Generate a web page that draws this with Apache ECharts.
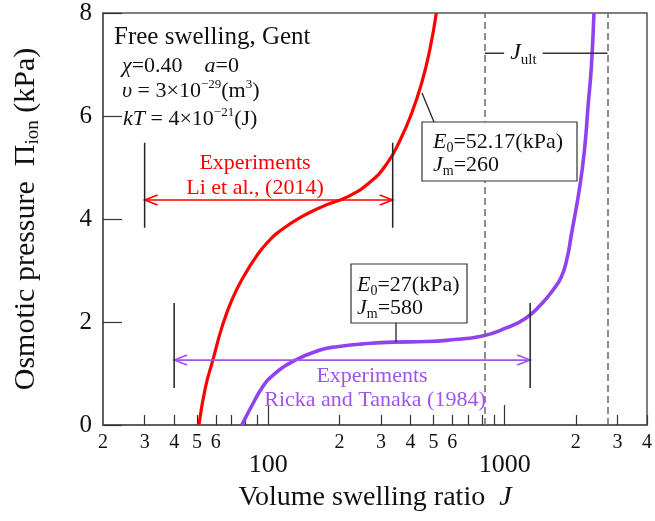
<!DOCTYPE html>
<html>
<head>
<meta charset="utf-8">
<script src="https://cdn.jsdelivr.net/npm/echarts@6/dist/echarts.min.js"></script>
<style>
html, body { margin: 0; padding: 0; background: #fff; }
#chart { width: 655px; height: 521px; }
</style>
</head>
<body>
<div id="chart"></div>
<script>
// Gent model, E0=52.17 kPa, Jm=260 (red)
var redJ = [50.9, 54.3, 58.3, 63.8, 70.2, 78.6, 90.8, 100, 110, 138, 175, 216, 270, 318, 361, 404, 445, 482, 514];
var redP = [0, 0.74, 1.26, 1.91, 2.43, 2.88, 3.33, 3.56, 3.74, 4.04, 4.27, 4.43, 4.72, 5.08, 5.53, 6.05, 6.63, 7.28, 8.0];

// Gent model, E0=27 kPa, Jm=580 (purple)
var purpleJ = [77.3, 87.9, 93.7, 103, 129, 167, 196, 246, 339, 467, 585, 806, 1009, 1224, 1437, 1600, 1731, 1829, 1919, 2079, 2182, 2252, 2327, 2386];
var purpleP = [0, 0.49, 0.71, 0.94, 1.25, 1.46, 1.52, 1.57, 1.61, 1.62, 1.65, 1.73, 1.88, 2.07, 2.36, 2.62, 2.86, 3.20, 3.72, 4.63, 5.40, 6.18, 6.96, 8.0];

// experimental ranges (red: Li et al. 2014, purple: Ricka and Tanaka 1984)
var expLeftJ = [30, 40];
var expRightJ = [336, 1282];
var expArrowP = [4.37, 1.26];
var expBarLow = [3.83, 0.72];
var expBarHigh = [5.48, 2.37];

// J_ult limits
var jultJ = [824, 2723];
var jultP = 7.22;
var jultLabelJ = 1200;

// axis ticks
var minorTicks = [30, 40, 50, 60, 70, 80, 90, 200, 300, 400, 500, 600, 700, 800, 900, 2000, 3000, 4000];
var minorLabels = [20, 30, 40, 50, 60, 200, 300, 400, 500, 600, 2000, 3000, 4000];
var majorTicks = [100, 1000];

var serif = '"Liberation Serif", "Times New Roman", serif';
var RED = '#ff0000';
var PURPLE = '#9142f0';
var PURPLE_TXT = '#a052f2';

function pairs(xs, ys) {
    return xs.map(function (x, i) { return [x, ys[i]]; });
}

function rich(size, color) {
    return {
        n: { fontFamily: serif, fontSize: size, fill: color, color: color, lineHeight: size + 4, verticalAlign: 'middle' },
        i: { fontFamily: serif, fontSize: size, fontStyle: 'italic', fill: color, color: color, lineHeight: size + 4, verticalAlign: 'middle' },
        sub: { fontFamily: serif, fontSize: Math.round(size * 0.62), fill: color, color: color, lineHeight: Math.round(size * 0.62), verticalAlign: 'bottom' },
        sup: { fontFamily: serif, fontSize: Math.round(size * 0.6), fill: color, color: color, lineHeight: Math.round(size * 0.6), verticalAlign: 'top' }
    };
}

function label(x, y, text, size, color, align) {
    return {
        type: 'text', x: x, y: y, z: 100,
        style: {
            text: text, rich: rich(size, color), fontFamily: serif, fontSize: size,
            fill: color, align: align || 'left', verticalAlign: 'middle'
        }
    };
}

function seg(x1, y1, x2, y2) {
    return { type: 'line', z: 100, shape: { x1: x1, y1: y1, x2: x2, y2: y2 }, style: { stroke: '#222', lineWidth: 1.3 } };
}

function box(x, y, w, h) {
    return { type: 'rect', z: 99, shape: { x: x, y: y, width: w, height: h }, style: { fill: '#fff', stroke: '#333', lineWidth: 1.2 } };
}

function rangeRenderer(color) {
    return function (params, api) {
        var l = api.coord([api.value(0), api.value(2)]);
        var r = api.coord([api.value(1), api.value(2)]);
        var lLo = api.coord([api.value(0), api.value(3)]);
        var lHi = api.coord([api.value(0), api.value(4)]);
        var rLo = api.coord([api.value(1), api.value(3)]);
        var rHi = api.coord([api.value(1), api.value(4)]);
        var ah = 13, aw = 5;
        var st = { stroke: color, fill: null, lineWidth: 1.6 };
        var bar = { stroke: '#222', lineWidth: 1.5 };
        return {
            type: 'group',
            children: [
                { type: 'line', shape: { x1: l[0], y1: l[1], x2: r[0], y2: r[1] }, style: st },
                { type: 'polyline', shape: { points: [[l[0] + ah, l[1] - aw], [l[0], l[1]], [l[0] + ah, l[1] + aw]] }, style: st },
                { type: 'polyline', shape: { points: [[r[0] - ah, r[1] - aw], [r[0], r[1]], [r[0] - ah, r[1] + aw]] }, style: st },
                { type: 'line', shape: { x1: lLo[0], y1: lLo[1], x2: lHi[0], y2: lHi[1] }, style: bar },
                { type: 'line', shape: { x1: rLo[0], y1: rLo[1], x2: rHi[0], y2: rHi[1] }, style: bar }
            ]
        };
    };
}

function jultRenderer(params, api) {
    var a = api.coord([api.value(0), api.value(2)]);
    var b = api.coord([api.value(1), api.value(2)]);
    var m = api.coord([api.value(3), api.value(2)]);
    return {
        type: 'group',
        children: [
            { type: 'line', shape: { x1: a[0], y1: a[1], x2: b[0], y2: b[1] }, style: { stroke: '#333', lineWidth: 1.5 } },
            {
                type: 'text', x: m[0], y: m[1],
                style: {
                    text: '{i|J}{sub|ult}', rich: rich(24, '#111'), align: 'center', verticalAlign: 'middle',
                    backgroundColor: '#fff', padding: [0, 6, 0, 6]
                }
            }
        ]
    };
}

var chart = echarts.init(document.getElementById('chart'));

var xCommon = {
    type: 'log', logBase: 10, min: 20, max: 4000,
    splitLine: { show: false }
};

chart.setOption({
    animation: false,
    backgroundColor: '#fff',
    grid: { left: 103, right: 2, top: 13, bottom: 96, show: true, borderColor: '#555', borderWidth: 1.5 },
    xAxis: [
        Object.assign({}, xCommon, {
            name: '{n|Volume swelling ratio  }{i|J}',
            nameLocation: 'middle', nameGap: 57,
            nameTextStyle: { rich: rich(28, '#111') },
            axisLine: { lineStyle: { color: '#555', width: 1.5 } },
            axisTick: { inside: true, length: 10, customValues: minorTicks, lineStyle: { color: '#333', width: 1.2 } },
            axisLabel: {
                customValues: minorLabels, margin: 8,
                fontFamily: serif, fontSize: 20, color: '#111',
                formatter: function (v) {
                    return String(Math.round(v / Math.pow(10, Math.floor(Math.log10(v) + 1e-9))));
                }
            }
        }),
        Object.assign({}, xCommon, {
            position: 'bottom',
            axisLine: { show: false },
            axisTick: { inside: true, length: 20, customValues: majorTicks, lineStyle: { color: '#333', width: 1.2 } },
            axisLabel: {
                customValues: majorTicks, margin: 27,
                fontFamily: serif, fontSize: 26, color: '#111',
                formatter: function (v) { return String(Math.round(v)); }
            }
        })
    ],
    yAxis: {
        type: 'value', min: 0, max: 8, interval: 2,
        name: '{n|Osmotic pressure  Π}{sub|ion}{n| (kPa)}',
        nameLocation: 'middle', nameGap: 60, nameRotate: 90,
        nameTextStyle: { rich: rich(30, '#111') },
        axisLine: { lineStyle: { color: '#555', width: 1.5 } },
        axisTick: { inside: true, length: 19, lineStyle: { color: '#333', width: 1.2 } },
        axisLabel: { margin: 11, fontFamily: serif, fontSize: 25, color: '#111' },
        splitLine: { show: false }
    },
    series: [
        {
            type: 'line', name: 'E0=52.17', data: pairs(redJ, redP), smooth: 0.5,
            showSymbol: false, symbol: 'none', lineStyle: { color: RED, width: 3.2 }, z: 3
        },
        {
            type: 'line', name: 'E0=27', data: pairs(purpleJ, purpleP), smooth: 0.5,
            showSymbol: false, symbol: 'none', lineStyle: { color: PURPLE, width: 3.6 }, z: 3,
            markLine: {
                silent: true, symbol: 'none', label: { show: false },
                lineStyle: { type: [7, 4], color: '#6a6a6a', width: 1.5 },
                data: jultJ.map(function (j) { return { xAxis: j }; })
            }
        },
        {
            type: 'custom', renderItem: rangeRenderer(RED), z: 4,
            encode: { x: [0, 1], y: [2, 3, 4] },
            data: [[expLeftJ[0], expRightJ[0], expArrowP[0], expBarLow[0], expBarHigh[0]]]
        },
        {
            type: 'custom', renderItem: rangeRenderer(PURPLE_TXT), z: 4,
            encode: { x: [0, 1], y: [2, 3, 4] },
            data: [[expLeftJ[1], expRightJ[1], expArrowP[1], expBarLow[1], expBarHigh[1]]]
        },
        {
            type: 'custom', renderItem: jultRenderer, z: 4,
            encode: { x: [0, 1, 3], y: [2] },
            data: [[jultJ[0], jultJ[1], jultP, jultLabelJ]]
        }
    ],
    graphic: [
        label(114, 37, '{n|Free swelling, Gent}', 25, '#111'),
        label(122, 66, '{i|χ}{n|=0.40    }{i|a}{n|=0}', 22, '#111'),
        label(122, 91, '{i|υ}{n| = 3×10}{sup|−29}{n|(m}{sup|3}{n|)}', 22, '#111'),
        label(123, 119, '{i|kT}{n| = 4×10}{sup|−21}{n|(J)}', 22, '#111'),

        label(255, 163, '{n|Experiments}', 22, RED, 'center'),
        label(255, 188, '{n|Li et al., (2014)}', 22, RED, 'center'),
        label(372, 376, '{n|Experiments}', 22, PURPLE_TXT, 'center'),
        label(375, 400, '{n|Ricka and Tanaka (1984)}', 22, PURPLE_TXT, 'center'),

        seg(434, 122, 422, 93),
        box(422, 122, 155, 59),
        label(433, 142, '{i|E}{sub|0}{n|=52.17(kPa)}', 22, '#111'),
        label(433, 165, '{i|J}{sub|m}{n|=260}', 22, '#111'),

        seg(396, 323, 396, 342),
        box(351, 264, 116, 59),
        label(357, 285, '{i|E}{sub|0}{n|=27(kPa)}', 22, '#111'),
        label(357, 308, '{i|J}{sub|m}{n|=580}', 22, '#111')
    ]
});
</script>
</body>
</html>
